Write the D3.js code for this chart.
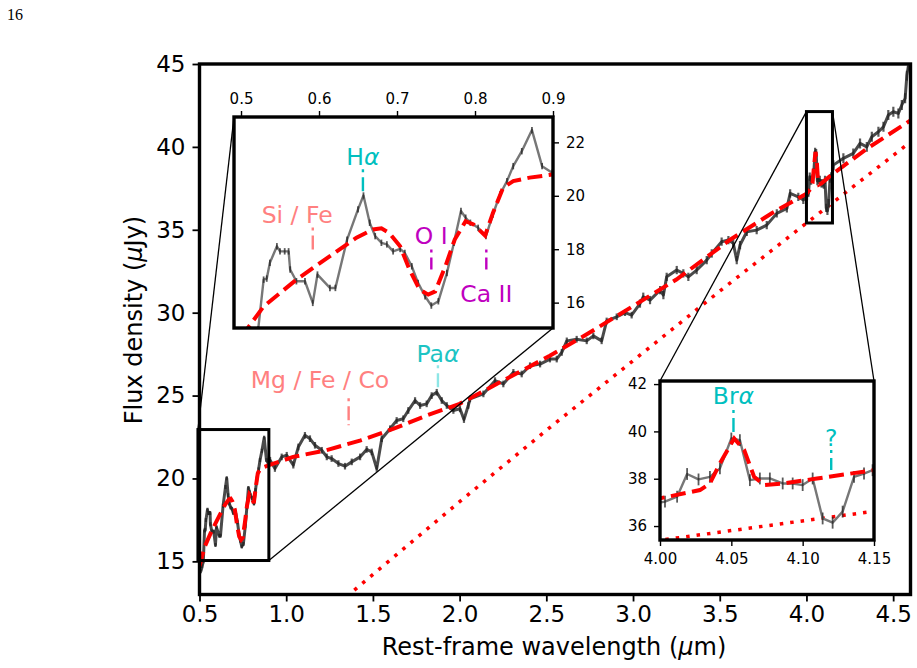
<!DOCTYPE html>
<html><head><meta charset="utf-8">
<script src="https://cdn.jsdelivr.net/npm/d3@7"></script>
<style>body{margin:0;background:#fff}svg{display:block}text{font-family:"DejaVu Sans",sans-serif}</style>
</head><body><svg id="c" width="917" height="668"></svg>
<script>
// ---- data ----
const specWave=[0.508,0.515,0.522,0.529,0.533,0.537,0.546,0.550,0.556,0.561,0.563,0.571,0.582,0.592,0.598,0.614,0.621,0.636,0.650,0.657,0.665,0.672,0.680,0.687,0.695,0.704,0.710,0.719,0.727,0.736,0.744,0.753,0.764,0.773,0.782,0.788,0.794,0.804,0.814,0.823,0.832,0.841,0.849,0.860,0.873,0.886,0.899,0.907,0.935,0.974,1.003,1.041,1.070,1.108,1.137,1.166,1.205,1.234,1.262,1.301,1.339,1.378,1.426,1.464,1.493,1.522,1.551,1.599,1.637,1.675,1.704,1.743,1.772,1.810,1.839,1.868,1.897,1.926,1.964,2.002,2.025,2.050,2.060,2.137,2.204,2.252,2.310,2.358,2.406,2.464,2.521,2.560,2.589,2.618,2.675,2.733,2.771,2.819,2.848,2.906,2.954,2.992,3.040,3.059,3.098,3.156,3.175,3.194,3.252,3.290,3.319,3.367,3.425,3.454,3.511,3.550,3.578,3.598,3.617,3.656,3.713,3.771,3.829,3.887,3.906,3.953,3.982,4.0035,4.012,4.019,4.027,4.035,4.042,4.050,4.056,4.063,4.070,4.077,4.086,4.093,4.100,4.107,4.114,4.121,4.128,4.136,4.143,4.149,4.155,4.213,4.270,4.309,4.348,4.377,4.415,4.444,4.472,4.501,4.530,4.550,4.569,4.579,4.588];
const specFlux=[14.4,14.7,15.0,16.86,16.9,17.49,18.11,17.92,17.92,17.92,17.24,16.80,16.80,15.99,17.05,16.55,16.55,18.36,19.49,20.01,18.99,18.49,18.24,18.18,17.92,18.01,17.86,17.36,16.74,16.24,15.89,16.05,17.11,18.24,19.43,19.18,18.99,18.80,18.49,19.30,20.05,20.55,21.11,21.67,22.46,21.11,20.86,21.1,20.6,21.3,21.4,20.8,21.9,22.6,22.4,22.0,21.7,21.3,21.2,20.9,20.74,21.0,21.3,21.75,21.6,20.6,22.4,23.0,23.5,23.6,24.1,24.7,24.4,24.5,25.0,25.2,24.7,24.4,24.1,24.2,23.55,24.4,24.8,25.1,25.9,25.7,26.4,26.3,26.8,26.9,27.2,27.2,27.6,28.3,28.4,28.3,28.6,28.3,29.5,29.75,30.0,29.85,30.55,30.96,30.76,31.36,31.06,32.16,32.57,32.37,32.16,32.57,33.17,33.57,34.28,34.38,34.18,33.17,34.08,34.88,34.98,35.28,35.99,36.29,37.20,36.99,36.8,37.03,37.24,38.20,37.97,38.08,38.44,39.70,39.63,37.94,38.01,38.01,37.80,37.80,37.73,38.01,36.32,36.14,36.61,38.08,38.22,38.36,38.9,39.31,39.61,40.21,40.0,40.61,40.91,41.21,41.92,42.12,42.02,42.53,42.93,44.3,44.9];
const specErr=[0.12,0.12,0.12,0.12,0.12,0.12,0.12,0.12,0.12,0.12,0.12,0.12,0.12,0.12,0.12,0.12,0.12,0.12,0.12,0.12,0.12,0.12,0.12,0.12,0.12,0.12,0.12,0.12,0.12,0.12,0.12,0.12,0.12,0.12,0.12,0.12,0.12,0.12,0.12,0.12,0.12,0.12,0.12,0.12,0.12,0.12,0.12,0.2,0.2,0.2,0.2,0.2,0.2,0.2,0.2,0.2,0.2,0.2,0.2,0.2,0.2,0.2,0.2,0.2,0.2,0.2,0.2,0.2,0.2,0.2,0.2,0.2,0.2,0.2,0.2,0.2,0.2,0.2,0.2,0.2,0.2,0.2,0.2,0.2,0.2,0.2,0.2,0.2,0.2,0.2,0.2,0.2,0.2,0.2,0.2,0.2,0.2,0.2,0.2,0.2,0.2,0.2,0.25,0.25,0.25,0.25,0.25,0.25,0.25,0.25,0.25,0.25,0.25,0.25,0.25,0.25,0.25,0.25,0.25,0.25,0.25,0.25,0.25,0.25,0.25,0.25,0.25,0.25,0.25,0.25,0.25,0.25,0.25,0.25,0.25,0.25,0.25,0.25,0.25,0.25,0.25,0.25,0.25,0.25,0.25,0.25,0.25,0.25,0.3,0.3,0.3,0.3,0.3,0.3,0.3,0.3,0.3,0.3,0.3,0.3,0.3,0.3,0.3];
const modelWave=[0.50,0.529,0.571,0.614,0.648,0.669,0.680,0.690,0.704,0.716,0.729,0.740,0.749,0.762,0.774,0.788,0.798,0.813,0.823,0.836,0.849,0.870,0.90,1.04,1.23,1.43,1.62,1.81,2.0,2.25,2.52,2.75,3.0,3.25,3.56,3.8,4.0,4.028,4.035,4.042,4.052,4.059,4.066,4.073,4.087,4.11,4.15,4.35,4.6];
const modelFlux=[14.7,15.86,16.86,17.74,18.43,18.74,18.78,18.61,18.11,17.24,16.49,16.30,16.42,17.36,18.36,19.05,18.93,18.51,19.36,20.30,20.55,20.68,20.8,21.3,21.7,22.3,23.0,23.8,24.5,25.9,27.4,28.8,30.4,32.0,34.4,36.0,37.17,37.52,37.80,38.65,39.70,39.21,38.08,37.73,37.80,38.01,38.36,39.9,41.6];
const contWave=[1.30,2.0,2.5,3.0,3.5,4.0,4.6];
const contFlux=[12.45,18.6,22.9,27.1,31.3,35.4,40.3];
const xTicks=[0.5,1.0,1.5,2.0,2.5,3.0,3.5,4.0,4.5];
const yTicks=[15,20,25,30,35,40,45];
const in1XTicks=[0.5,0.6,0.7,0.8,0.9];
const in1YTicks=[16,18,20,22];
const in2XTicks=[4.00,4.05,4.10,4.15];
const in2YTicks=[36,38,40,42];
const lineLabels=[
 {panel:"main",parts:[["Mg / Fe / Co",0]],tx:1.195,ty:25.45,mx:1.36,my0:24.84,my1:23.21,col:"#ff8080",mcol:"#ff8080"},
 {panel:"main",parts:[["Pa",0],["α",1]],tx:1.875,ty:27.0,mx:1.875,my0:26.83,my1:25.33,col:"#1cc4c4",mcol:"#8ee6e6"},
 {panel:"in1",parts:[["H",0],["α",1]],tx:0.6563,ty:21.15,mx:0.6563,my0:20.99,my1:20.13,col:"#00bfbf",mcol:"#00bfbf"},
 {panel:"in1",parts:[["Si / Fe",0]],tx:0.572,ty:18.98,mx:0.592,my0:18.81,my1:17.99,col:"#ff8080",mcol:"#ff8080"},
 {panel:"in1",parts:[["O I",0]],tx:0.744,ty:18.2,mx:0.744,my0:17.99,my1:17.24,col:"#bf00bf",mcol:"#bf00bf"},
 {panel:"in1",parts:[["Ca II",0]],tx:0.8145,ty:16.02,mx:0.8145,my0:17.99,my1:17.24,col:"#bf00bf",mcol:"#bf00bf"},
 {panel:"in2",parts:[["Br",0],["α",1]],tx:4.0515,ty:41.15,mx:4.0515,my0:40.90,my1:39.97,col:"#00bfbf",mcol:"#00bfbf"},
 {panel:"in2",parts:[["?",0]],tx:4.12,ty:39.4,mx:4.12,my0:39.21,my1:38.37,col:"#00bfbf",mcol:"#00bfbf"}
];

// ---- drawing ----
const svg=d3.select("#c");
svg.append("text").attr("x",7).attr("y",20).attr("font-size",16).style("font-family","'Liberation Serif',serif").text("16");

const X0=199.5,X1=910.5,Y0=64,Y1=594.5;
const x=d3.scaleLinear([0.5,4.6],[X0,X1]);
const y=d3.scaleLinear([13,45],[Y1,Y0]);
const spec=specWave.map((w,i)=>({w,f:specFlux[i],e:specErr[i]}));
const model=modelWave.map((w,i)=>({w,f:modelFlux[i]}));
const cont=contWave.map((w,i)=>({w,f:contFlux[i]}));

const defs=svg.append("defs");
function clip(id,xs,ys){
  defs.append("clipPath").attr("id",id).append("rect")
   .attr("x",xs.range()[0]).attr("y",ys.range()[1])
   .attr("width",xs.range()[1]-xs.range()[0]).attr("height",ys.range()[0]-ys.range()[1]);
}
function drawData(g,xs,ys,id,opt){
  clip(id,xs,ys);
  const c=g.append("g").attr("clip-path",`url(#${id})`);
  const line=d3.line().x(d=>xs(d.w)).y(d=>ys(d.f));
  c.append("path").datum(cont).attr("d",line).attr("fill","none").attr("stroke","#ff0000")
   .attr("stroke-width",opt.dotW).attr("stroke-dasharray",opt.dot);
  c.append("path").datum(spec).attr("d",line).attr("fill","none").attr("stroke",opt.specCol)
   .attr("stroke-width",opt.specW).attr("stroke-linejoin","round");
  c.selectAll(".eb").data(spec).join("line").attr("x1",d=>xs(d.w)).attr("x2",d=>xs(d.w))
   .attr("y1",d=>ys(d.f-d.e)).attr("y2",d=>ys(d.f+d.e)).attr("stroke","#222").attr("stroke-opacity",0.75).attr("stroke-width",opt.ebW);
  c.append("path").datum(model).attr("d",line).attr("fill","none").attr("stroke","#ff0000")
   .attr("stroke-width",opt.modW).attr("stroke-dasharray",opt.dash);
}
function drawLabels(g,panel,xs,ys,fs){
  lineLabels.filter(l=>l.panel===panel).forEach(l=>{
    const t=g.append("text").attr("x",xs(l.tx)).attr("y",ys(l.ty)).attr("text-anchor","middle")
      .attr("font-size",fs).attr("fill",l.col);
    l.parts.forEach(p=>t.append("tspan").attr("font-style",p[1]?"italic":"normal").text(p[0]));
    g.append("line").attr("x1",xs(l.mx)).attr("x2",xs(l.mx)).attr("y1",ys(l.my0)).attr("y2",ys(l.my1))
      .attr("stroke",l.mcol).attr("stroke-width",2.4).attr("stroke-dasharray","3,5,14,4");
  });
}

const main=svg.append("g");
drawData(main,x,y,"cm",{dotW:3.5,dot:"3.5,7",specCol:"#4a4a4a",specW:3,ebW:2.2,modW:4,dash:"15,6.5"});
drawLabels(main,"main",x,y,23.5);

const ax=main.append("g").attr("transform",`translate(0,${Y1})`)
  .call(d3.axisBottom(x).tickValues(xTicks).tickFormat(d3.format(".1f")).tickSize(7).tickPadding(4));
const ay=main.append("g").attr("transform",`translate(${X0},0)`)
  .call(d3.axisLeft(y).tickValues(yTicks).tickSize(7).tickPadding(7));
[ax,ay].forEach(a=>{a.select(".domain").remove();a.selectAll("line").attr("stroke-width",1.8);
  a.selectAll("text").attr("font-size",23).attr("font-family","DejaVu Sans").attr("fill","#000");});

main.append("text").attr("x",554).attr("y",655).attr("text-anchor","middle").attr("font-size",24)
  .call(t=>{t.append("tspan").text("Rest-frame wavelength (");t.append("tspan").attr("font-style","italic").text("μ");t.append("tspan").text("m)");});
main.append("text").attr("transform","translate(142,320) rotate(-90)").attr("text-anchor","middle").attr("font-size",24)
  .call(t=>{t.append("tspan").text("Flux density (");t.append("tspan").attr("font-style","italic").text("μ");t.append("tspan").text("Jy)");});

const x1=d3.scaleLinear([0.491,0.9],[234,553]);
const y1=d3.scaleLinear([15.05,22.95],[328,117]);
const x2=d3.scaleLinear([4.0,4.15],[660,874]);
const y2=d3.scaleLinear([35.41,42.13],[540,381]);

function markInset(xi,yi,c1,c2){
  const [a,b]=xi.domain(), [c,d]=yi.domain();
  main.append("rect").attr("x",x(a)).attr("y",y(d)).attr("width",x(b)-x(a)).attr("height",y(c)-y(d))
    .attr("fill","none").attr("stroke","#000").attr("stroke-width",3);
  const corner=(k,xs,ys)=>({tl:[xs(a),ys(d)],tr:[xs(b),ys(d)],bl:[xs(a),ys(c)],br:[xs(b),ys(c)]})[k];
  [c1,c2].forEach(k=>{const p=corner(k,x,y),q=corner(k,xi,yi);
    main.append("line").attr("x1",p[0]).attr("y1",p[1]).attr("x2",q[0]).attr("y2",q[1]).attr("stroke","#000").attr("stroke-width",1.3);});
}
markInset(x1,y1,"tl","br");
markInset(x2,y2,"tl","tr");

function inset(xs,ys,id,panel,xAxisPos,yAxisPos,xfmt,yTicksV,xTicksV){
  const g=svg.append("g");
  g.append("rect").attr("x",xs.range()[0]).attr("y",ys.range()[1]).attr("width",xs.range()[1]-xs.range()[0])
   .attr("height",ys.range()[0]-ys.range()[1]).attr("fill","#fff");
  drawData(g,xs,ys,id,{dotW:3.5,dot:"3.5,7",specCol:"#777",specW:2.4,ebW:1.8,modW:4,dash:"15,6.5"});
  drawLabels(g,panel,xs,ys,23.5);
  const axX=xAxisPos==="top"?d3.axisTop(xs):d3.axisBottom(xs);
  const axY=yAxisPos==="right"?d3.axisRight(ys):d3.axisLeft(ys);
  const gx=g.append("g").attr("transform",`translate(0,${xAxisPos==="top"?ys.range()[1]:ys.range()[0]})`)
    .call(axX.tickValues(xTicksV).tickFormat(xfmt).tickSize(6).tickPadding(7));
  const gy=g.append("g").attr("transform",`translate(${yAxisPos==="right"?xs.range()[1]:xs.range()[0]},0)`)
    .call(axY.tickValues(yTicksV).tickFormat(d3.format("d")).tickSize(6).tickPadding(7));
  [gx,gy].forEach(a=>{a.select(".domain").remove();a.selectAll("line").attr("stroke-width",1.4);
    a.selectAll("text").attr("font-size",15).attr("font-family","DejaVu Sans").attr("fill","#000");});
  g.append("rect").attr("x",xs.range()[0]).attr("y",ys.range()[1]).attr("width",xs.range()[1]-xs.range()[0])
   .attr("height",ys.range()[0]-ys.range()[1]).attr("fill","none").attr("stroke","#000").attr("stroke-width",3.4);
}
inset(x1,y1,"c1","in1","top","right",d3.format(".1f"),in1YTicks,in1XTicks);
inset(x2,y2,"c2","in2","bottom","left",d3.format(".2f"),in2YTicks,in2XTicks);

svg.append("rect").attr("x",X0).attr("y",Y0).attr("width",X1-X0).attr("height",Y1-Y0)
  .attr("fill","none").attr("stroke","#000").attr("stroke-width",3.4);
</script></body></html>
